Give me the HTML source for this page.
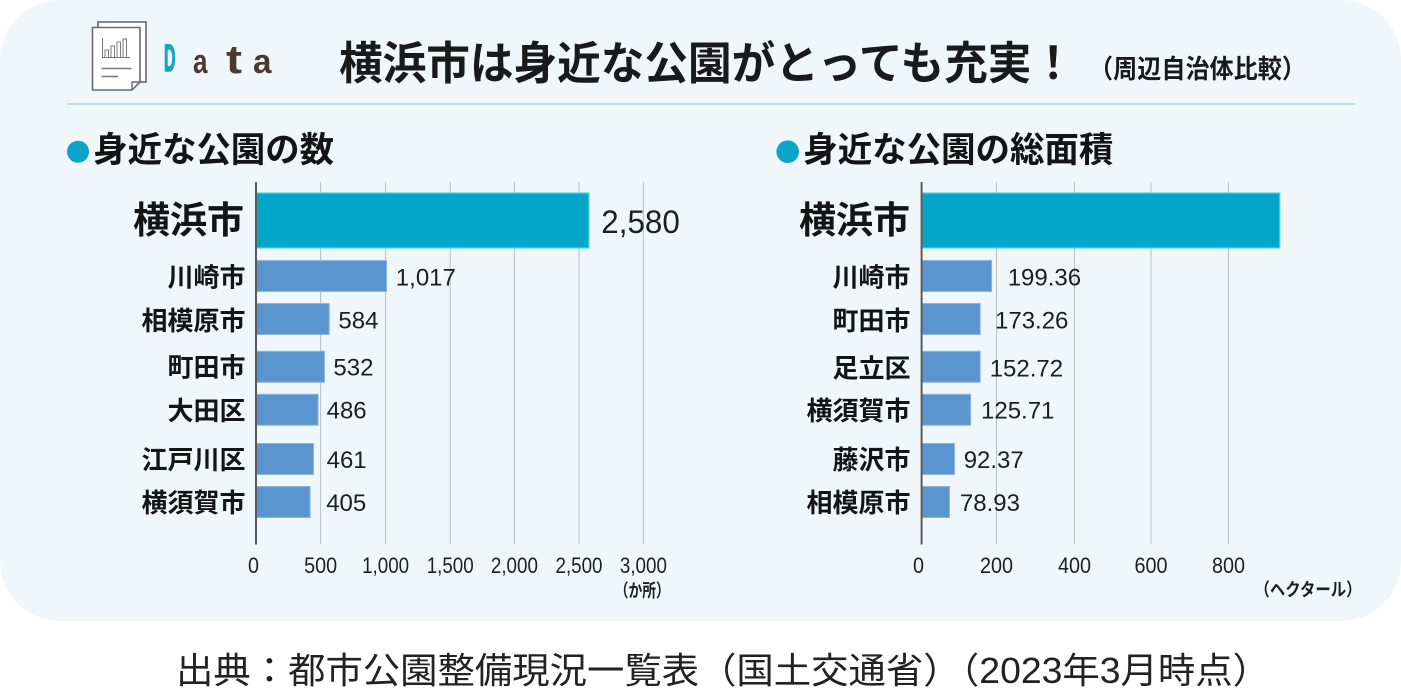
<!DOCTYPE html>
<html lang="ja">
<head>
<meta charset="utf-8">
<style>
  html,body{margin:0;padding:0;background:#ffffff;}
  body{width:1401px;height:697px;overflow:hidden;}
  svg{display:block;}
  .jp{font-family:"Liberation Sans","Noto Sans CJK JP",sans-serif;}
  .num{font-family:"Liberation Sans","Noto Sans CJK JP",sans-serif;fill:#1e1e1e;}
</style>
</head>
<body>
<svg width="1401" height="697" viewBox="0 0 1401 697" xmlns="http://www.w3.org/2000/svg">
  <!-- card background -->
  <rect x="0" y="0" width="1401" height="621" rx="60" ry="60" fill="#eff7fa"/>

  <!-- document icon -->
  <rect x="98" y="22" width="48" height="60" fill="#ffffff" stroke="#6a6a6a" stroke-width="1.6"/>
  <path d="M92.5,27.5 H140 V82 L132,90 H92.5 Z" fill="#ffffff" stroke="#6a6a6a" stroke-width="1.6"/>
  <path d="M132,90 V82 H140" fill="none" stroke="#6a6a6a" stroke-width="1.4"/>
  <path d="M102.5,38 V57.5 H130" fill="none" stroke="#7a7a7a" stroke-width="1.1"/>
  <rect x="105" y="50" width="3.5" height="7.5" fill="none" stroke="#7a7a7a" stroke-width="1"/>
  <rect x="111" y="46" width="3.5" height="11.5" fill="none" stroke="#7a7a7a" stroke-width="1"/>
  <rect x="117" y="42" width="3.5" height="15.5" fill="none" stroke="#7a7a7a" stroke-width="1"/>
  <rect x="123" y="39" width="3.5" height="18.5" fill="none" stroke="#7a7a7a" stroke-width="1"/>
  <line x1="101.5" y1="68.5" x2="131.5" y2="68.5" stroke="#7a7a7a" stroke-width="1.4"/>
  <line x1="101.5" y1="76.5" x2="118" y2="76.5" stroke="#7a7a7a" stroke-width="1.4"/>

  <!-- Data -->
  <text x="164" y="71" font-family="Liberation Sans, sans-serif" font-weight="bold" font-size="38" fill="#16a4c8" stroke="#16a4c8" stroke-width="1.6" textLength="11.5" lengthAdjust="spacingAndGlyphs">D</text>
  <text x="193" y="73" font-family="Liberation Sans, sans-serif" font-weight="bold" font-size="34" fill="#4b3a31" textLength="14.5" lengthAdjust="spacingAndGlyphs">a</text>
  <text x="226" y="73" font-family="Liberation Sans, sans-serif" font-weight="bold" font-size="40" fill="#4b3a31" textLength="16" lengthAdjust="spacingAndGlyphs">t</text>
  <text x="253" y="73" font-family="Liberation Sans, sans-serif" font-weight="bold" font-size="34" fill="#4b3a31" textLength="18.5" lengthAdjust="spacingAndGlyphs">a</text>

  <!-- Title -->
  <text class="jp" x="339" y="79" font-size="45" font-weight="bold" fill="#1a1a1a" textLength="736" lengthAdjust="spacingAndGlyphs">横浜市は身近な公園がとっても充実！</text>
  <text class="jp" x="1089" y="78" font-size="26" font-weight="bold" fill="#1a1a1a" textLength="217" lengthAdjust="spacingAndGlyphs">（周辺自治体比較）</text>

  <!-- header line -->
  <line x1="67" y1="104" x2="1355" y2="104" stroke="#a9dce9" stroke-width="1.6"/>

  <!-- section headers -->
  <circle cx="78" cy="151.7" r="11" fill="#0aa5c8"/>
  <text class="jp" x="93.3" y="162" font-size="35" font-weight="bold" fill="#141414" textLength="240.7" lengthAdjust="spacingAndGlyphs">身近な公園の数</text>
  <circle cx="787.7" cy="151.7" r="11.3" fill="#0aa5c8"/>
  <text class="jp" x="803.3" y="162" font-size="35" font-weight="bold" fill="#141414" textLength="310" lengthAdjust="spacingAndGlyphs">身近な公園の総面積</text>

  <!-- ================= LEFT CHART ================= -->
  <g stroke="#bdbdbd" stroke-width="1">
    <line x1="320.6" y1="182" x2="320.6" y2="544"/>
    <line x1="385.6" y1="182" x2="385.6" y2="544"/>
    <line x1="450.2" y1="182" x2="450.2" y2="544"/>
    <line x1="514.4" y1="182" x2="514.4" y2="544"/>
    <line x1="579" y1="182" x2="579" y2="544"/>
    <line x1="643.4" y1="182" x2="643.4" y2="544"/>
  </g>
  <!-- bars -->
  <rect x="256.5" y="193" width="332.5" height="55" fill="#02a6c9" stroke="#62d2ea" stroke-width="1.2"/>
  <g fill="#5a95d0" stroke="#8cb6e2" stroke-width="1">
    <rect x="256.5" y="260.5" width="130" height="31"/>
    <rect x="256.5" y="303.5" width="72.7" height="31"/>
    <rect x="256.5" y="351.3" width="68" height="31"/>
    <rect x="256.5" y="394.3" width="61.6" height="31"/>
    <rect x="256.5" y="443.5" width="57" height="31"/>
    <rect x="256.5" y="486.5" width="53.6" height="31"/>
  </g>
  <line x1="256" y1="182" x2="256" y2="544.5" stroke="#5a5a5a" stroke-width="2"/>

  <!-- left category labels -->
  <g class="jp" font-weight="bold" fill="#141414" text-anchor="end">
    <text x="244" y="233" font-size="37">横浜市</text>
    <text x="245.5" y="286.5" font-size="26">川崎市</text>
    <text x="245.5" y="329.8" font-size="26">相模原市</text>
    <text x="245.5" y="376.5" font-size="26">町田市</text>
    <text x="245.5" y="419.8" font-size="26">大田区</text>
    <text x="245.5" y="469" font-size="26">江戸川区</text>
    <text x="245.5" y="512" font-size="26">横須賀市</text>
  </g>

  <!-- left value labels -->
  <text class="num" x="601.3" y="233.2" font-size="32" textLength="78.5" lengthAdjust="spacingAndGlyphs">2,580</text>
  <g class="num" font-size="24">
    <text x="395.8" y="285.3">1,017</text>
    <text x="338.4" y="328.6">584</text>
    <text x="333.4" y="375.3">532</text>
    <text x="326.6" y="418.6">486</text>
    <text x="326.6" y="467.9">461</text>
    <text x="326.2" y="510.9">405</text>
  </g>

  <!-- left tick labels -->
  <g class="num" font-size="22" text-anchor="middle">
    <text x="253.5" y="573" textLength="11" lengthAdjust="spacingAndGlyphs">0</text>
    <text x="320.6" y="573" textLength="33" lengthAdjust="spacingAndGlyphs">500</text>
    <text x="385.6" y="573" textLength="47" lengthAdjust="spacingAndGlyphs">1,000</text>
    <text x="450.2" y="573" textLength="47" lengthAdjust="spacingAndGlyphs">1,500</text>
    <text x="514.4" y="573" textLength="47" lengthAdjust="spacingAndGlyphs">2,000</text>
    <text x="579" y="573" textLength="47" lengthAdjust="spacingAndGlyphs">2,500</text>
    <text x="643.4" y="573" textLength="47" lengthAdjust="spacingAndGlyphs">3,000</text>
  </g>
  <text class="jp" x="614.7" y="597" font-size="18" font-weight="bold" fill="#1e1e1e" textLength="55" lengthAdjust="spacingAndGlyphs">（か所）</text>

  <!-- ================= RIGHT CHART ================= -->
  <g stroke="#bdbdbd" stroke-width="1">
    <line x1="996.5" y1="182" x2="996.5" y2="544"/>
    <line x1="1074.5" y1="182" x2="1074.5" y2="544"/>
    <line x1="1151" y1="182" x2="1151" y2="544"/>
    <line x1="1228.5" y1="182" x2="1228.5" y2="544"/>
  </g>
  <rect x="922" y="193" width="357.8" height="55" fill="#02a6c9" stroke="#62d2ea" stroke-width="1.2"/>
  <g fill="#5a95d0" stroke="#8cb6e2" stroke-width="1">
    <rect x="922" y="260.5" width="69.6" height="31"/>
    <rect x="922" y="303.5" width="58.2" height="31"/>
    <rect x="922" y="351.3" width="58.2" height="31"/>
    <rect x="922" y="394.3" width="48.6" height="31"/>
    <rect x="922" y="443.5" width="32.5" height="31"/>
    <rect x="922" y="486.5" width="27.5" height="31"/>
  </g>
  <line x1="921.6" y1="182" x2="921.6" y2="544.5" stroke="#5a5a5a" stroke-width="2"/>

  <!-- right category labels -->
  <g class="jp" font-weight="bold" fill="#141414" text-anchor="end">
    <text x="910" y="233" font-size="37">横浜市</text>
    <text x="910.5" y="286.5" font-size="26">川崎市</text>
    <text x="910.5" y="329.8" font-size="26">町田市</text>
    <text x="910.5" y="377.5" font-size="26">足立区</text>
    <text x="910.5" y="419.8" font-size="26">横須賀市</text>
    <text x="910.5" y="469" font-size="26">藤沢市</text>
    <text x="910.5" y="512" font-size="26">相模原市</text>
  </g>

  <!-- right value labels -->
  <g class="num" font-size="24">
    <text x="1007.7" y="285.3">199.36</text>
    <text x="995" y="328.6">173.26</text>
    <text x="989.7" y="376.3">152.72</text>
    <text x="981" y="418.6">125.71</text>
    <text x="963.7" y="467.9">92.37</text>
    <text x="959.9" y="510.9">78.93</text>
  </g>

  <!-- right tick labels -->
  <g class="num" font-size="22" text-anchor="middle">
    <text x="918.5" y="573" textLength="11" lengthAdjust="spacingAndGlyphs">0</text>
    <text x="996.5" y="573" textLength="33" lengthAdjust="spacingAndGlyphs">200</text>
    <text x="1074.5" y="573" textLength="33" lengthAdjust="spacingAndGlyphs">400</text>
    <text x="1151" y="573" textLength="33" lengthAdjust="spacingAndGlyphs">600</text>
    <text x="1228.5" y="573" textLength="33" lengthAdjust="spacingAndGlyphs">800</text>
  </g>
  <text class="jp" x="1254.5" y="596" font-size="18" font-weight="bold" fill="#1e1e1e" textLength="107" lengthAdjust="spacingAndGlyphs">（ヘクタール）</text>

  <!-- source -->
  <text class="jp" x="176" y="683" font-size="36" fill="#222222" textLength="1094" lengthAdjust="spacingAndGlyphs">出典：都市公園整備現況一覧表（国土交通省）（2023年3月時点）</text>
</svg>
</body>
</html>
